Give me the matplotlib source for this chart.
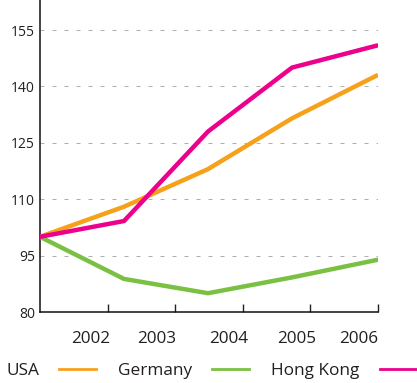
import numpy as np
import matplotlib.pyplot as plt
from matplotlib.lines import Line2D

years = ['2002', '2003', '2004', '2005', '2006']
usa = [100, 108, 118, 131.5, 142.8]
germany = [100, 88.8, 85, 89.2, 93.8]
hong_kong = [100, 104.2, 128, 145, 150.8]
y_ticks = [80, 95, 110, 125, 140, 155]

colors = {'USA': '#f7a11a', 'Germany': '#7ac143', 'Hong Kong': '#ec008c'}
text_color = '#231f20'
plt.rcParams['font.family'] = ['Open Sans', 'DejaVu Sans']

fig = plt.figure(figsize=(4.17, 3.83), dpi=100)
ax = fig.add_axes([40 / 417, 71 / 383, 338 / 417, 312 / 383])

x = np.arange(len(years))
for name, vals in [('USA', usa), ('Germany', germany), ('Hong Kong', hong_kong)]:
    ax.plot(x, vals, color=colors[name], lw=3.2, solid_joinstyle='miter', zorder=3)

x_max = 338 / 84
ax.set_xlim(0, x_max)
ax.set_ylim(80, 80 + 312 / 3.76)

# grid
for v in y_ticks[1:]:
    ax.axhline(v, color='#b0b0b0', lw=0.75, linestyle=(0, (3.84, 7.68)), zorder=1)

ax.set_yticks(y_ticks)
ax.tick_params(axis='y', length=0, pad=3.6, labelsize=10, labelcolor=text_color)

# tick marks at minor, labels at major
ax.set_xticks(np.linspace(0, x_max, 6)[1:], minor=True)
label_pos = [(p - 40) / 84 for p in [91, 157, 229, 297, 359]]
ax.set_xticks(label_pos)
ax.set_xticklabels(years)
ax.tick_params(axis='x', which='major', length=0, pad=13.5, labelsize=12.3, labelcolor=text_color)
ax.tick_params(axis='x', which='minor', direction='in', length=6, width=1.0, color='#231f20')

for s in ['top', 'right']:
    ax.spines[s].set_visible(False)
for s in ['left', 'bottom']:
    ax.spines[s].set_linewidth(1.1)
    ax.spines[s].set_color('#111111')

handles = [Line2D([], [], color=colors[n], lw=2.0) for n in ['USA', 'Germany', 'Hong Kong']]
leg = fig.legend(handles, ['USA', 'Germany', 'Hong Kong'], loc='center left',
                 bbox_to_anchor=(6 / 417, 12 / 383), ncol=3, frameon=False,
                 markerfirst=False, fontsize=12.4, handlelength=2.15,
                 handletextpad=1.15, columnspacing=1.3, borderpad=0, borderaxespad=0)
for t in leg.get_texts():
    t.set_color(text_color)

fig.savefig('out.png', dpi=100)
